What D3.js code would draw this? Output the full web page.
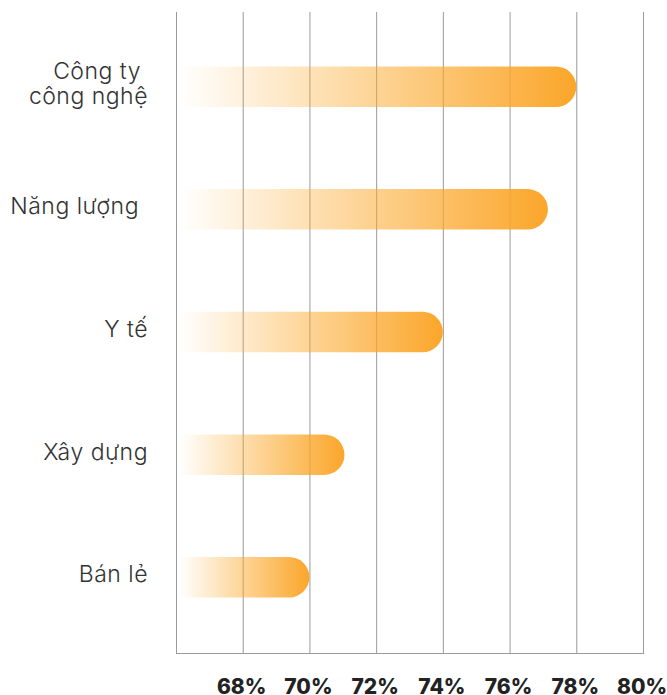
<!DOCTYPE html>
<html><head><meta charset="utf-8">
<script src="https://cdn.jsdelivr.net/npm/d3@7"></script>
<style>body{margin:0;background:#fff}svg{display:block}</style>
</head><body>
<svg id="c" width="667" height="695"></svg>
<script>
const categories = [["Công ty", "công nghệ"], ["Năng lượng"], ["Y tế"], ["Xây dựng"], ["Bán lẻ"]];
const values = [78, 77.15, 74, 71.05, 70];
const ticks = [68, 70, 72, 74, 76, 78, 80];
const tickLabels = ["68%", "70%", "72%", "74%", "76%", "78%", "80%"];

const svg = d3.select("#c");
const x = d3.scaleLinear().domain([66, 80]).range([176, 643]);
const y = d3.scaleBand().domain(d3.range(categories.length)).range([26, 638]).paddingInner(0.67).paddingOuter(0.33);

const defs = svg.append("defs");
values.forEach((v, i) => {
  const g = defs.append("linearGradient").attr("id", "g" + i).attr("x1", "0%").attr("x2", "100%");
  g.append("stop").attr("offset", "0%").attr("stop-color", "#FBA92A").attr("stop-opacity", 0);
  g.append("stop").attr("offset", "100%").attr("stop-color", "#FBA62A").attr("stop-opacity", 1);
});

// grid
svg.append("g").selectAll("line").data([66].concat(ticks)).join("line")
  .attr("x1", d => x(d) + 0.5).attr("x2", d => x(d) + 0.5)
  .attr("y1", 12).attr("y2", 653)
  .attr("stroke", "#9a9a9a").attr("stroke-width", 1);
svg.append("line").attr("x1", x(66)).attr("x2", x(80) + 1).attr("y1", 653.5).attr("y2", 653.5)
  .attr("stroke", "#9a9a9a");

// bars
const bh = y.bandwidth();
svg.append("g").selectAll("path").data(values).join("path")
  .attr("fill", (d, i) => `url(#g${i})`)
  .attr("d", (d, i) => {
    const x0 = x(66) + 3, x1 = x(d), y0 = y(i), r = bh / 2;
    return `M${x0},${y0}H${x1 - r}A${r},${r} 0 0 1 ${x1 - r},${y0 + bh}H${x0}Z`;
  });

// category labels
const lab = svg.append("g").attr("font-family", "Inter, sans-serif").attr("font-weight", 300)
  .attr("font-size", 23).attr("letter-spacing", 0.5).attr("fill", "#333");
categories.forEach((lines, i) => {
  const cy = y(i) + bh / 2;
  const t = lab.append("text").attr("text-anchor", "end");
  const n = lines.length;
  lines.forEach((s, j) => {
    t.append("tspan").attr("x", n > 1 && j === 0 ? 141 : (s === "Năng lượng" ? 139 : 148))
      .attr("y", cy + 5 + (j - (n - 1) / 2) * 25).text(s);
  });
});

// tick labels
svg.append("g").selectAll("text").data(ticks).join("text")
  .attr("x", d => x(d) - 1).attr("y", 694)
  .attr("text-anchor", "middle")
  .attr("font-family", "Inter, sans-serif").attr("font-weight", 800).attr("font-size", 21)
  .attr("fill", "#222")
  .text((d, i) => tickLabels[i]);
</script>
</body></html>
